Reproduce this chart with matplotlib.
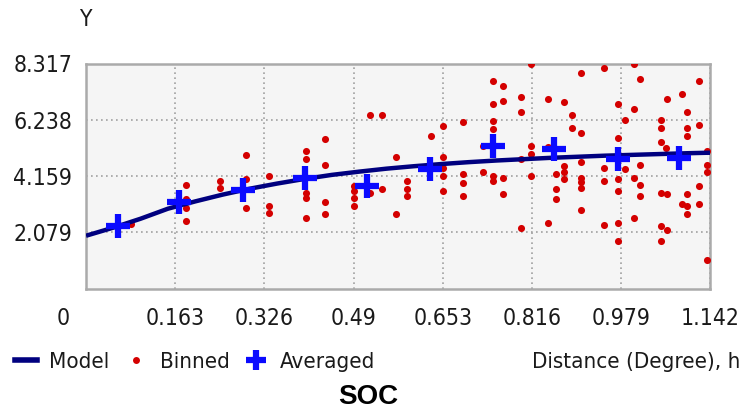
import matplotlib.pyplot as plt
import matplotlib.transforms as mtransforms
from matplotlib.lines import Line2D

# semivariogram
model_h = [0, 0.05, 0.1, 0.15, 0.2, 0.25, 0.3, 0.35, 0.4, 0.45, 0.5, 0.55,
           0.6, 0.65, 0.7, 0.75, 0.8, 0.85, 0.9, 0.95, 1.0, 1.05, 1.1, 1.142]
model_g = [1.95, 2.25, 2.58, 2.95, 3.22, 3.47, 3.69, 3.88, 4.05, 4.2, 4.32, 4.43,
           4.52, 4.6, 4.67, 4.73, 4.78, 4.83, 4.87, 4.91, 4.94, 4.97, 5.0, 5.02]

avg_h = [0.059, 0.171, 0.288, 0.401, 0.515, 0.629, 0.745, 0.857, 0.974, 1.085]
avg_g = [2.30, 3.19, 3.63, 4.10, 3.79, 4.41, 5.26, 5.16, 4.78, 4.81]

binned_h = [0.082,
            0.183, 0.183, 0.183, 0.183,
            0.245, 0.245,
            0.292, 0.292, 0.292,
            0.335, 0.335, 0.335,
            0.403, 0.403, 0.403, 0.403, 0.403,
            0.437, 0.437, 0.437, 0.437,
            0.491, 0.491, 0.491, 0.491,
            0.520, 0.542, 0.520, 0.542,
            0.567, 0.567,
            0.588, 0.588, 0.588,
            0.632,
            0.654, 0.654, 0.654, 0.654, 0.654,
            0.690, 0.690, 0.690, 0.690,
            0.726, 0.726,
            0.745, 0.745, 0.745, 0.745, 0.745, 0.745,
            0.763, 0.763, 0.763, 0.763,
            0.796, 0.796, 0.796, 0.796,
            0.814, 0.814, 0.814, 0.814,
            0.846, 0.846, 0.846,
            0.861, 0.861, 0.861,
            0.875, 0.875, 0.875, 0.875,
            0.890, 0.890,
            0.905, 0.905, 0.905, 0.905, 0.905, 0.905, 0.905,
            0.948, 0.948, 0.948, 0.948,
            0.974, 0.974, 0.974, 0.974, 0.974, 0.974,
            0.987, 0.987,
            1.003, 1.003, 1.003, 1.003,
            1.013, 1.013, 1.013, 1.013,
            1.053, 1.053, 1.053, 1.053, 1.053, 1.053,
            1.064, 1.062, 1.064, 1.064,
            1.090, 1.090,
            1.100, 1.100, 1.100, 1.100, 1.100, 1.100, 1.100,
            1.122, 1.122, 1.122, 1.122,
            1.137, 1.137, 1.137, 1.137]
binned_g = [2.40,
            3.82, 3.30, 2.99, 2.51,
            3.98, 3.73,
            4.94, 4.04, 2.99,
            4.16, 3.05, 2.80,
            5.09, 4.78, 3.54, 3.36, 2.61,
            5.53, 4.56, 3.19, 2.74,
            3.79, 3.60, 3.36, 3.05,
            6.42, 6.42, 3.54, 3.67,
            4.85, 2.74,
            3.98, 3.67, 3.42,
            5.63,
            6.02, 4.85, 4.47, 4.16, 3.60,
            6.15, 4.23, 3.89, 3.42,
            5.26, 4.29,
            7.66, 6.83, 6.21, 5.90, 4.16, 3.98,
            7.49, 6.92, 4.10, 3.48,
            7.08, 6.52, 4.78, 2.24,
            8.30, 5.26, 4.97, 4.16,
            6.99, 5.22, 2.43,
            4.23, 3.67, 3.29,
            6.89, 4.53, 4.29, 4.04,
            6.42, 5.93,
            7.95, 5.75, 4.66, 4.10, 3.92, 3.73, 2.92,
            8.16, 4.47, 3.98, 2.36,
            6.83, 5.55, 4.04, 3.60, 2.43, 1.74,
            6.24, 4.41,
            8.30, 6.62, 4.10, 2.61,
            7.76, 4.56, 3.82, 3.42,
            6.24, 5.93, 5.41, 3.54, 2.30, 1.74,
            6.99, 5.20, 3.48, 2.18,
            7.20, 3.11,
            6.52, 5.93, 5.63, 4.85, 3.48, 3.05, 2.74,
            7.66, 6.05, 3.79, 3.11,
            5.09, 4.56, 4.29, 1.06]

xticks = [0, 0.163, 0.326, 0.49, 0.653, 0.816, 0.979, 1.142]
xlabels = ['0', '0.163', '0.326', '0.49', '0.653', '0.816', '0.979', '1.142']
yticks = [2.079, 4.159, 6.238, 8.317]
ylabels = ['2.079', '4.159', '6.238', '8.317']

plt.rcParams['font.family'] = ['DejaVu Sans']
plt.rcParams['font.stretch'] = 'condensed'
txt = '#1a1a1a'
fs = 16.5

fig = plt.figure(figsize=(7.43, 4.07), dpi=100)
ax = fig.add_axes([86/743, 1-288.5/407, 624/743, 225/407])
ax.set_facecolor('#f5f5f5')

ax.plot(model_h, model_g, color='#00007f', lw=3.2, zorder=4, solid_capstyle='butt')
ax.scatter(binned_h, binned_g, s=26, color='#d40000', zorder=3, linewidths=0)
ax.plot(avg_h, avg_g, ls='none', marker='+', ms=17, mew=4.5, color='#0a0aff', zorder=5)

ax.set_xlim(0, 1.142)
ax.set_ylim(0, 8.317)
ax.set_xticks(xticks)
ax.set_xticklabels(xlabels)
ax.set_yticks(yticks)
ax.set_yticklabels(ylabels)
ax.tick_params(length=0, labelsize=fs, labelcolor=txt)
ax.tick_params(axis='y', pad=10)
ax.tick_params(axis='x', pad=13)
ax.grid(True, color='#a0a0a0', ls=(0, (1, 2)), lw=1.2)
for s in ax.spines.values():
    s.set_color('#aaaaaa')
    s.set_linewidth(1.8)

# origin label sits left of the axis like the original
lbl = ax.get_xticklabels()[0]
lbl.set_transform(lbl.get_transform() + mtransforms.ScaledTranslation(-0.23, 0, fig.dpi_scale_trans))

fig.text(85/743, 1-20/407, 'Y', ha='center', va='center', fontsize=fs, color=txt)
fig.text(740/743, 1-362/407, 'Distance (Degree), h', ha='right', va='center', fontsize=16, color=txt)

handles = [Line2D([], [], color='#00007f', lw=4),
           Line2D([], [], ls='none', marker='o', ms=5, color='#d40000', mew=0),
           Line2D([], [], ls='none', marker='+', ms=15, mew=4.5, color='#0a0aff')]
fig.legend(handles, ['Model', 'Binned', 'Averaged'], ncol=3, frameon=False,
           loc='center left', bbox_to_anchor=(15/743, 1-362/407), borderaxespad=0,
           borderpad=0, fontsize=16, handlelength=1.0, handletextpad=0.55,
           columnspacing=0.7, labelcolor=txt)

fig.text(368/743, 1-384/407, 'SOC', ha='center', va='top', fontsize=20,
         fontweight='bold', family='Liberation Sans', stretch='normal', color='black')

fig.savefig('out.png', dpi=100)
